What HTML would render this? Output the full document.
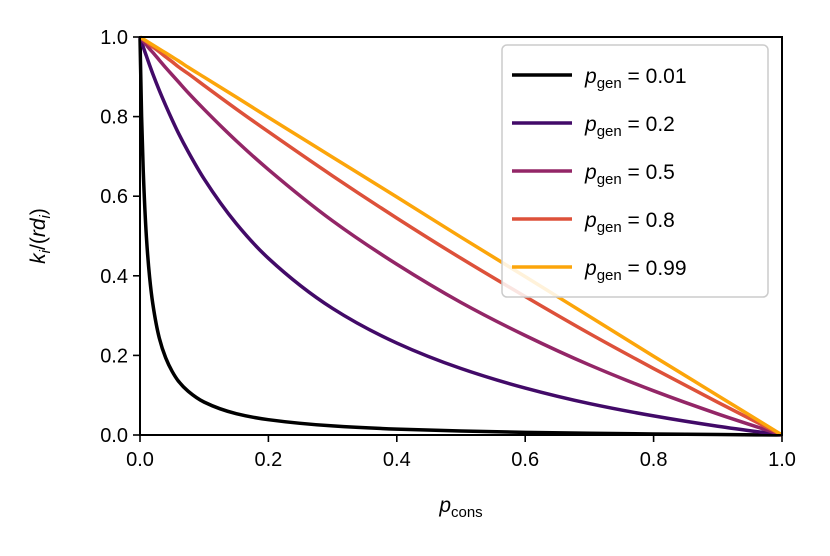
<!DOCTYPE html>
<html><head><meta charset="utf-8"><style>
body{margin:0;background:#fff;}
svg{display:block;font-family:"Liberation Sans","DejaVu Sans",sans-serif;}
</style></head><body>
<svg id="chart" width="830" height="556" viewBox="0 0 830 556">
<rect width="830" height="556" fill="#fff"/>
<g id="plot"></g>
</svg>
<script>
const xs = [0,0.0025,0.005,0.01,0.015,0.02,0.03,0.04,0.05,0.06,0.075,0.1,0.15,0.2,0.3,0.4,0.5,0.6,0.7,0.8,0.9,1];
const s001 = [1,0.800,0.666,0.497,0.396,0.329,0.244,0.194,0.160,0.135,0.110,0.0826,0.0536,0.0385,0.0228,0.0148,0.0099,0.0066,0.0043,0.0025,0.0011,0];
const s02 = [1,0.988,0.975,0.952,0.929,0.907,0.866,0.828,0.792,0.758,0.712,0.643,0.531,0.444,0.318,0.231,0.167,0.118,0.079,0.048,0.022,0];
const s05 = [1,0.995,0.990,0.980,0.970,0.961,0.942,0.923,0.905,0.887,0.860,0.818,0.739,0.667,0.538,0.429,0.333,0.25,0.176,0.111,0.053,0];
const s08 = [1,0.997,0.994,0.988,0.981,0.975,0.963,0.950,0.938,0.925,0.908,0.878,0.819,0.762,0.651,0.545,0.444,0.348,0.255,0.167,0.082,0];
const s099 = [1,0.9975,0.995,0.990,0.985,0.980,0.970,0.960,0.950,0.940,0.924,0.899,0.849,0.798,0.698,0.598,0.497,0.398,0.298,0.198,0.099,0];
const seriesLabels = ["0.01","0.2","0.5","0.8","0.99"];
const xTicks = [0,0.2,0.4,0.6,0.8,1.0];
const yTicks = [0,0.2,0.4,0.6,0.8,1.0];

const NS="http://www.w3.org/2000/svg";
const g=document.getElementById('plot');
const X0=140,X1=782,Y0=435,Y1=37;
const sx=v=>X0+(X1-X0)*v, sy=v=>Y0-(Y0-Y1)*v;
function mk(t,a,p){const e=document.createElementNS(NS,t);for(const k in a)e.setAttribute(k,a[k]);(p||g).appendChild(e);return e;}
function monotonePath(px,py){
  const n=px.length, d=[], m=new Array(n);
  for(let i=0;i<n-1;i++) d.push((py[i+1]-py[i])/(px[i+1]-px[i]));
  m[0]=d[0]; m[n-1]=d[n-2];
  for(let i=1;i<n-1;i++){
    if(d[i-1]*d[i]<=0) m[i]=0;
    else { const h0=px[i]-px[i-1], h1=px[i+1]-px[i];
      const w1=2*h1+h0, w2=h1+2*h0;
      m[i]=(w1+w2)/(w1/d[i-1]+w2/d[i]); }
  }
  let s='M'+px[0].toFixed(2)+','+py[0].toFixed(2);
  for(let i=0;i<n-1;i++){
    const h=(px[i+1]-px[i])/3;
    s+='C'+(px[i]+h).toFixed(2)+','+(py[i]+m[i]*h).toFixed(2)+' '+(px[i+1]-h).toFixed(2)+','+(py[i+1]-m[i+1]*h).toFixed(2)+' '+px[i+1].toFixed(2)+','+py[i+1].toFixed(2);
  }
  return s;
}
const colors=["#000000","#420a68","#932667","#dd513a","#fca50a"];
const data=[s001,s02,s05,s08,s099];
data.forEach((s,i)=>{
  const d=monotonePath(xs.map(sx),s.map(sy));
  const p=mk('path',{d:d,fill:'none',stroke:colors[i],'stroke-width':3.5,'stroke-linejoin':'round'});
  
  
});
const frame=mk('rect',{x:X0,y:Y1,width:X1-X0,height:Y0-Y1,fill:'none',stroke:'#000','stroke-width':2});


xTicks.forEach(t=>{
  mk('line',{x1:sx(t),x2:sx(t),y1:Y0,y2:Y0+7,stroke:'#000','stroke-width':1.6});
  const tx=mk('text',{x:sx(t),y:Y0+31,'text-anchor':'middle','font-size':20});
  tx.textContent=t.toFixed(1);
  
  
});
yTicks.forEach(t=>{
  mk('line',{x1:X0-7,x2:X0,y1:sy(t),y2:sy(t),stroke:'#000','stroke-width':1.6});
  const tx=mk('text',{x:X0-12,y:sy(t)+7,'text-anchor':'end','font-size':20});
  tx.textContent=t.toFixed(1);
  
  
});
const xl=mk('text',{x:461,y:512,'text-anchor':'middle','font-size':21});
xl.innerHTML='<tspan font-style="italic">p</tspan><tspan font-size="15" dy="5">cons</tspan>';


const yl=mk('text',{x:0,y:0,'text-anchor':'middle','font-size':21,transform:'translate(45,236) rotate(-90)'});
yl.innerHTML='<tspan font-style="italic">k</tspan><tspan font-style="italic" font-size="15" dy="5">i</tspan><tspan dy="-5">/(</tspan><tspan font-style="italic">rd</tspan><tspan font-style="italic" font-size="15" dy="5">i</tspan><tspan dy="-5">)</tspan>';


const lg=mk('g',{});


mk('rect',{x:502,y:45,width:266,height:252,rx:5,fill:'#fff','fill-opacity':0.85,stroke:'#ccc','stroke-width':1.5},lg);
seriesLabels.forEach((l,i)=>{
  const y=75+i*48;
  const ln=mk('line',{x1:512,x2:572,y1:y,y2:y,stroke:colors[i],'stroke-width':3.5},lg);
  
  
  const t=mk('text',{x:585,y:y+8,'font-size':21},lg);
  t.innerHTML='<tspan font-style="italic">p</tspan><tspan font-size="15" dy="5">gen</tspan><tspan dy="-5"> = '+l+'</tspan>';
  
  
});
</script>
</body></html>
